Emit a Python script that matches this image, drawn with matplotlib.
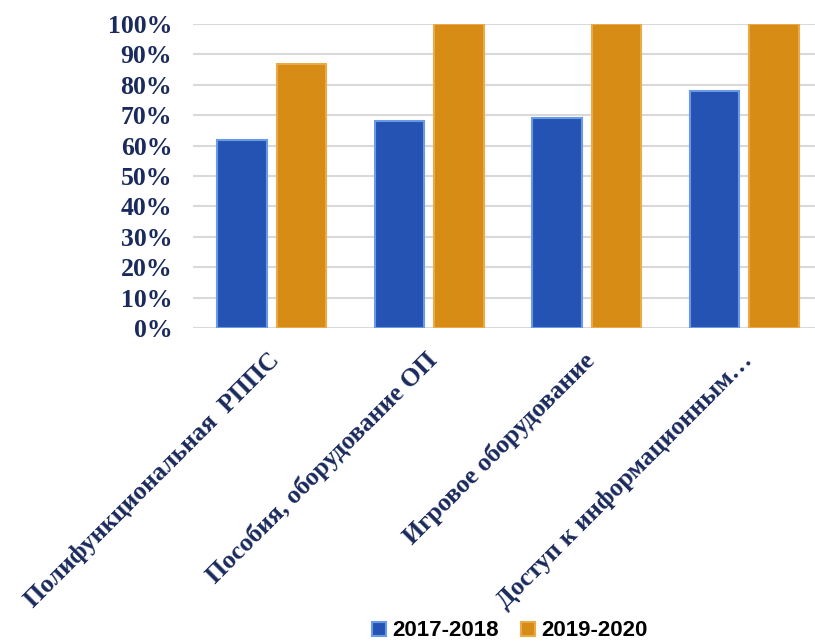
import numpy as np
import matplotlib
matplotlib.use("Agg")
import matplotlib.pyplot as plt
from matplotlib.patches import Patch
from matplotlib.transforms import ScaledTranslation

# donnees
categories = ["Полифункциональная  РППС",
              "Пособия, оборудование ОП",
              "Игровое оборудование",
              "Доступ к информационным…"]
series_names = ["2017-2018", "2019-2020"]
val_2017 = [0.62, 0.68, 0.69, 0.78]
val_2019 = [0.87, 1.00, 1.00, 1.00]
yticks = [0.0, 0.1, 0.2, 0.3, 0.4, 0.5, 0.6, 0.7, 0.8, 0.9, 1.0]
ytick_labels = ["0%", "10%", "20%", "30%", "40%", "50%",
                "60%", "70%", "80%", "90%", "100%"]

# couleurs
bleu, bleu_bord = "#2553B3", "#6A9AE6"
orange, orange_bord = "#D68C15", "#EBAA48"
navy = "#1B2A5C"

fig = plt.figure(figsize=(8.15, 6.41), dpi=100)
ax = fig.add_axes([193 / 815, 313 / 641, 630 / 815, 304 / 641])

x = np.arange(len(categories))
w = 0.314
dec = 0.189
ax.bar(x - dec, val_2017, w, color=bleu, edgecolor=bleu_bord, linewidth=1.5, zorder=3)
ax.bar(x + dec, val_2019, w, color=orange, edgecolor=orange_bord, linewidth=1.5, zorder=3)

ax.set_xlim(-0.5, len(categories) - 0.5)
ax.set_ylim(0, 1.0)
ax.set_yticks(yticks)
ax.set_yticklabels(ytick_labels, fontfamily="Liberation Serif", fontweight="bold",
                   fontsize=18.5, color=navy)
ax.yaxis.grid(True, color="#D9D9D9", linewidth=1.5, zorder=0)
ax.tick_params(axis="y", length=0, pad=15)
ax.tick_params(axis="x", length=0, pad=14)
for s in ax.spines.values():
    s.set_visible(False)
ax.set_xticks(x)
ax.set_xticklabels(categories, rotation=45, ha="right", va="top",
                   rotation_mode="anchor", fontfamily="Liberation Serif",
                   fontweight="bold", fontsize=18.5, color=navy)
# petit decalage des etiquettes vers la gauche
decal = ScaledTranslation(-4 / 100, -1 / 100, fig.dpi_scale_trans)
for lab in ax.get_xticklabels():
    lab.set_transform(lab.get_transform() + decal)

handles = [Patch(facecolor=bleu, edgecolor=bleu_bord, linewidth=1.5),
           Patch(facecolor=orange, edgecolor=orange_bord, linewidth=1.5)]
fig.legend(handles, series_names, loc="center", bbox_to_anchor=(510 / 815, 1 - 631 / 641),
           ncol=2, frameon=False, handlelength=0.6, handleheight=0.6,
           handletextpad=0.3, columnspacing=1.0, borderpad=0.1,
           prop={"family": "Liberation Sans", "weight": "bold", "size": 16})

fig.savefig("out.png", dpi=100)
